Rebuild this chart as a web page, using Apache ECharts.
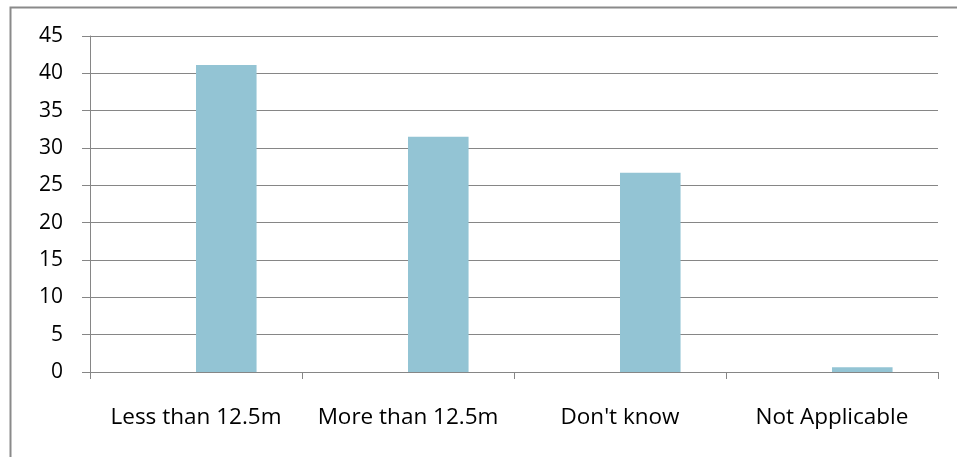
<!DOCTYPE html>
<html>
<head>
<meta charset="utf-8">
<script src="https://cdn.jsdelivr.net/npm/echarts@6/dist/echarts.min.js"></script>
<style>
  html, body { margin: 0; padding: 0; background: #ffffff; }
  #chart { width: 957px; height: 457px; }
</style>
</head>
<body>
<div id="chart"></div>
<script>
// Survey answers and their shares
var categories = ['Less than 12.5m', 'More than 12.5m', "Don't know", 'Not Applicable'];
var emptySeries = [null, null, null, null];
var values = [41.1, 31.5, 26.7, 0.65];
var yTicks = { min: 0, max: 45, step: 5 };

var FONT = '"Open Sans"';
var AXIS_GREY = '#868686';

var chart = echarts.init(document.getElementById('chart'), null, { renderer: 'canvas' });

chart.setOption({
  animation: false,
  backgroundColor: '#ffffff',
  graphic: [{
    type: 'rect',
    left: 8,
    top: 5,
    shape: { width: 1200, height: 1200 },
    style: { fill: 'none', stroke: '#8a8a8a', lineWidth: 2 },
    silent: true
  }],
  grid: { left: 90, right: 19, top: 36, bottom: 85, containLabel: false },
  xAxis: {
    type: 'category',
    data: categories,
    axisLine: { lineStyle: { color: AXIS_GREY, width: 1 } },
    axisTick: { show: true, interval: 0, length: 7, lineStyle: { color: AXIS_GREY } },
    axisLabel: { interval: 0, hideOverlap: false, color: '#000000', fontFamily: FONT, fontSize: 22.5, margin: 34 },
    splitLine: { show: false }
  },
  yAxis: {
    type: 'value',
    min: yTicks.min,
    max: yTicks.max,
    interval: yTicks.step,
    axisLine: { show: true, lineStyle: { color: AXIS_GREY, width: 1 } },
    axisTick: { show: true, length: 8, lineStyle: { color: AXIS_GREY } },
    axisLabel: { color: '#000000', fontFamily: FONT, fontSize: 21, margin: 27 },
    splitLine: { show: true, lineStyle: { color: AXIS_GREY, width: 1 } }
  },
  series: [
    {
      type: 'bar',
      data: emptySeries,
      barWidth: '28.57%',
      barGap: '0%',
      itemStyle: { color: '#93c4d4' }
    },
    {
      type: 'bar',
      data: values,
      barWidth: '28.57%',
      barGap: '0%',
      itemStyle: { color: '#93c4d4' }
    }
  ]
});
</script>
</body>
</html>
